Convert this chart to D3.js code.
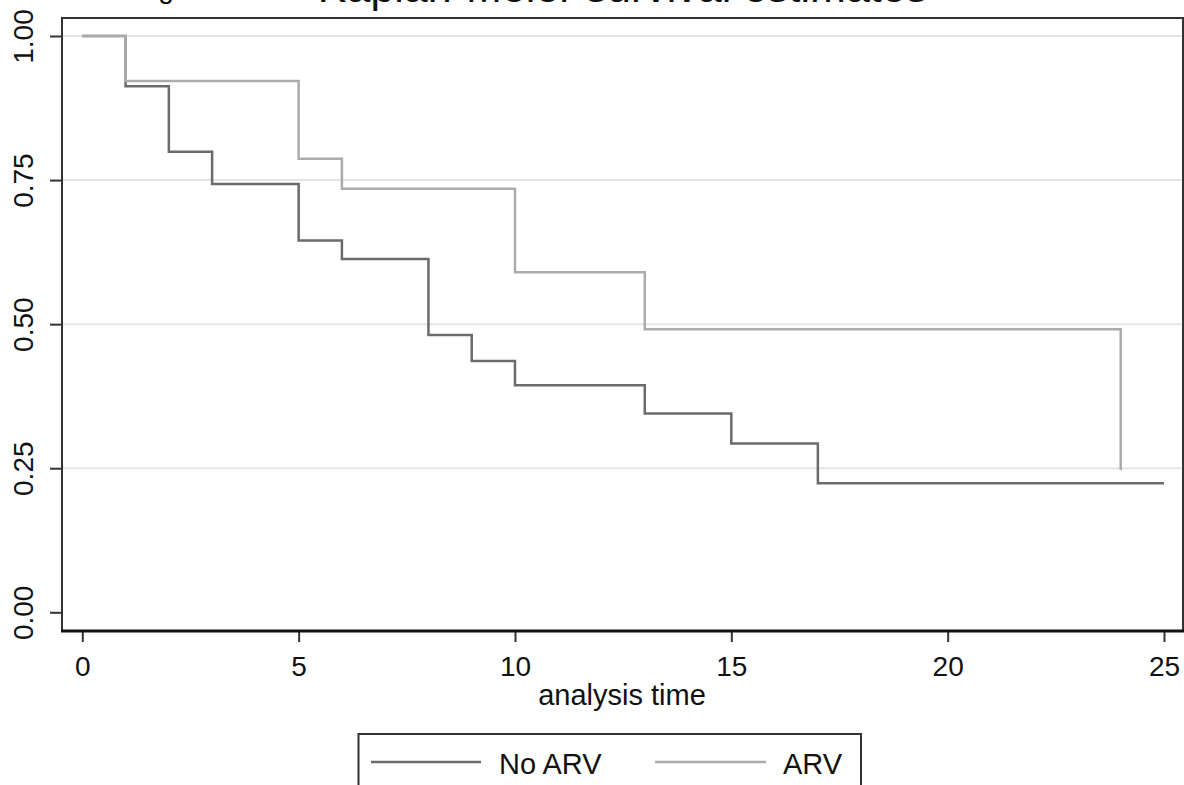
<!DOCTYPE html>
<html>
<head>
<meta charset="utf-8">
<script src="https://cdn.jsdelivr.net/npm/d3@7"></script>
<style>
  body { margin: 0; background: #fff; }
  text { font-family: "Liberation Sans", Arial, sans-serif; }
</style>
</head>
<body>
<div id="km"></div>
<script>
var width = 1184, height = 785;

// Kaplan-Meier step values
var timeNoARV = [0, 1, 2, 3, 5, 6, 8, 9, 10, 13, 15, 17, 25];
var survNoARV = [1, 0.913, 0.799, 0.743, 0.645, 0.613, 0.481, 0.436, 0.394, 0.345, 0.293, 0.224, 0.224];
var timeARV = [0, 1, 5, 6, 10, 13, 24];
var survARV = [1, 0.922, 0.787, 0.735, 0.590, 0.491, 0.247];

var xTicks = [0, 5, 10, 15, 20, 25];
var yTicks = [0, 0.25, 0.5, 0.75, 1];
var yGrid = [0.25, 0.5, 0.75, 1];
var legendLabels = ["No ARV", "ARV"];
var colors = ["#6b6b6b", "#ababab"];

var frame = {left: 62, top: 18, right: 1183, bottom: 631};

var svg = d3.select("#km").append("svg")
  .attr("width", width)
  .attr("height", height);

var x = d3.scaleLinear().domain([0, 25]).range([82.3, 1164]);
var y = d3.scaleLinear().domain([0, 1]).range([612.3, 36]);

// title, cut off by the top edge
svg.append("text")
  .attr("x", 135)
  .attr("y", -2)
  .style("font-size", "28px")
  .attr("fill", "#000")
  .text("Figure");

svg.append("text")
  .attr("x", (frame.left + frame.right) / 2)
  .attr("y", 1.5)
  .attr("text-anchor", "middle")
  .style("font-size", "43px")
  .attr("fill", "#111")
  .text("Kaplan-Meier survival estimates");

// grid lines
svg.selectAll(".grid")
  .data(yGrid)
  .join("line")
  .attr("class", "grid")
  .attr("x1", frame.left)
  .attr("x2", frame.right)
  .attr("y1", (d) => y(d))
  .attr("y2", (d) => y(d))
  .attr("stroke", "#e4e4e4")
  .attr("stroke-width", 2);

// frame
svg.append("rect")
  .attr("x", frame.left)
  .attr("y", frame.top)
  .attr("width", frame.right - frame.left)
  .attr("height", frame.bottom - frame.top)
  .attr("fill", "none")
  .attr("stroke", "#333")
  .attr("stroke-width", 2);

// x axis
var xAxis = d3.axisBottom(x)
  .tickValues(xTicks)
  .tickSize(11)
  .tickPadding(14)
  .tickFormat(d3.format("d"));

var gx = svg.append("g")
  .attr("transform", "translate(0," + frame.bottom + ")")
  .call(xAxis);
gx.select(".domain").remove();
gx.append("line")
  .attr("x1", frame.left - 1)
  .attr("x2", frame.right + 1)
  .attr("stroke", "#111")
  .attr("stroke-width", 3);
gx.selectAll(".tick line").attr("stroke", "#333").attr("stroke-width", 2);
gx.selectAll(".tick text")
  .style("font-size", "28px")
  .style("font-family", "Liberation Sans, Arial, sans-serif")
  .attr("fill", "#111");

// y axis
var yAxis = d3.axisLeft(y)
  .tickValues(yTicks)
  .tickSize(12)
  .tickFormat(d3.format(".2f"));

var gy = svg.append("g")
  .attr("transform", "translate(" + frame.left + ",0)")
  .call(yAxis);
gy.select(".domain").remove();
gy.selectAll(".tick line").attr("stroke", "#333").attr("stroke-width", 2);
gy.selectAll(".tick text")
  .attr("x", 0)
  .attr("dy", 0)
  .attr("transform", "translate(-29,0) rotate(-90)")
  .attr("text-anchor", "middle")
  .style("font-size", "28px")
  .style("font-family", "Liberation Sans, Arial, sans-serif")
  .attr("fill", "#111");

// axis title
svg.append("text")
  .attr("x", 622)
  .attr("y", 705)
  .attr("text-anchor", "middle")
  .style("font-size", "29px")
  .attr("fill", "#111")
  .text("analysis time");

// survival curves
var line = d3.line()
  .x((d) => x(d[0]))
  .y((d) => y(d[1]))
  .curve(d3.curveStepAfter);

var series = [
  d3.zip(timeNoARV, survNoARV),
  d3.zip(timeARV, survARV)
];

svg.selectAll(".km")
  .data(series)
  .join("path")
  .attr("class", "km")
  .attr("d", line)
  .attr("fill", "none")
  .attr("stroke", (d, i) => colors[i])
  .attr("stroke-width", 2.5);

// legend
svg.append("rect")
  .attr("x", 358.5)
  .attr("y", 734)
  .attr("width", 502.5)
  .attr("height", 80)
  .attr("fill", "#fff")
  .attr("stroke", "#333")
  .attr("stroke-width", 2);

var legendX = [[371, 481, 499], [655, 766, 783]];

var legend = svg.selectAll(".legend")
  .data(legendLabels)
  .join("g")
  .attr("class", "legend");

legend.append("line")
  .attr("x1", (d, i) => legendX[i][0])
  .attr("x2", (d, i) => legendX[i][1])
  .attr("y1", 762)
  .attr("y2", 762)
  .attr("stroke", (d, i) => colors[i])
  .attr("stroke-width", 2.5);

legend.append("text")
  .attr("x", (d, i) => legendX[i][2])
  .attr("y", 774)
  .style("font-size", "29px")
  .attr("fill", "#111")
  .text((d) => d);
</script>
</body>
</html>
